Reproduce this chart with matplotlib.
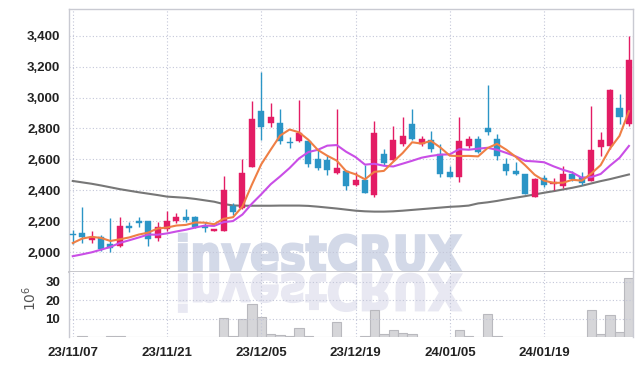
import numpy as np
import pandas as pd
import matplotlib
matplotlib.use("Agg")
import matplotlib.pyplot as plt
from matplotlib.textpath import TextPath
from matplotlib.patches import PathPatch
from matplotlib.font_manager import FontProperties
from matplotlib.transforms import Affine2D

# ── data (daily candles, 23/11/07 .. 24/02/01) ─────────────────────────────
holidays = ["2023-12-25", "2023-12-29", "2024-01-01"]
dates = pd.bdate_range("2023-11-07", "2024-02-01", freq="C", holidays=holidays)

opens  = [2120, 2126, 2078, 2096, 2052, 2041, 2172, 2200, 2200, 2093,
          2148, 2200, 2228, 2230, 2172, 2140, 2140, 2301, 2284, 2553,
          2912, 2837, 2837, 2710, 2718, 2718, 2602, 2596, 2514, 2527,
          2435, 2467, 2370, 2634, 2596, 2703, 2828, 2699, 2725, 2632,
          2518, 2488, 2688, 2735, 2800, 2735, 2570, 2527, 2505, 2359,
          2477, 2441, 2428, 2509, 2488, 2462, 2681, 2685, 2934, 2827]
highs  = [2145, 2290, 2135, 2110, 2220, 2226, 2198, 2226, 2202, 2198,
          2270, 2257, 2278, 2232, 2194, 2152, 2492, 2316, 2606, 2978,
          3166, 2966, 2923, 2746, 2987, 2720, 2665, 2628, 2923, 2530,
          2521, 2564, 2847, 2665, 2815, 2875, 2923, 2750, 2783, 2703,
          2557, 2875, 2750, 2750, 3080, 2763, 2611, 2585, 2507, 2477,
          2499, 2477, 2559, 2527, 2516, 2945, 2778, 3057, 3024, 3400]
lows   = [2055, 2060, 2058, 2007, 2002, 2035, 2133, 2165, 2043, 2074,
          2137, 2187, 2195, 2160, 2134, 2138, 2138, 2240, 2280, 2550,
          2725, 2811, 2703, 2671, 2714, 2553, 2531, 2499, 2505, 2402,
          2428, 2383, 2355, 2563, 2591, 2686, 2725, 2686, 2650, 2484,
          2486, 2456, 2671, 2643, 2757, 2596, 2499, 2499, 2374, 2357,
          2424, 2402, 2413, 2460, 2434, 2458, 2621, 2670, 2831, 2814]
closes = [2115, 2100, 2100, 2024, 2028, 2170, 2160, 2192, 2087, 2161,
          2200, 2226, 2212, 2165, 2155, 2150, 2402, 2262, 2510, 2860,
          2811, 2873, 2718, 2705, 2770, 2568, 2546, 2531, 2548, 2428,
          2467, 2385, 2772, 2578, 2724, 2750, 2731, 2729, 2665, 2509,
          2488, 2718, 2735, 2649, 2778, 2624, 2527, 2505, 2376, 2473,
          2434, 2456, 2509, 2471, 2445, 2664, 2728, 3050, 2874, 3243]
volume = [0.2, 0.5, 0.2, 0.2, 0.8, 0.8, 0.4, 0.2, 0.4, 0.2,
          0.4, 0.1, 0.1, 0.1, 0.1, 0.1, 10.3, 0.9, 10.0, 18.2,
          10.7, 1.8, 1.3, 0.7, 5.2, 0.7, 0.4, 0.4, 8.3, 0.3,
          0.3, 0.9, 14.5, 1.8, 4.0, 2.4, 1.9, 0.2, 0.2, 0.2,
          0.2, 4.0, 0.9, 0.4, 12.7, 0.9, 0.4, 0.1, 0.3, 0.3,
          0.1, 0.1, 0.3, 0.1, 0.1, 14.9, 1.8, 12.2, 2.7, 31.8]  # x 10^6

# moving-average values before enough history exists
ma5_head  = [2060, 2089, 2100, 2093]
ma10_head = [1975, 1987, 2000, 2017, 2035, 2061, 2078, 2096, 2115]
# long moving average (grey line)
ma_long = [2461, 2452, 2443, 2432, 2420, 2408, 2398, 2388, 2379, 2370,
           2360, 2356, 2352, 2345, 2336, 2327, 2312, 2303, 2301, 2301,
           2301, 2301, 2302, 2302, 2302, 2300, 2295, 2289, 2283, 2276,
           2269, 2265, 2263, 2263, 2265, 2269, 2274, 2279, 2284, 2289,
           2294, 2297, 2302, 2316, 2323, 2332, 2343, 2353, 2363, 2374,
           2385, 2395, 2406, 2417, 2430, 2445, 2460, 2473, 2488, 2503]

tick_dates = ["23/11/07", "23/11/21", "23/12/05", "23/12/19", "24/01/05", "24/01/19"]
price_ticks = [2000, 2200, 2400, 2600, 2800, 3000, 3200, 3400]
vol_ticks = [10, 20, 30]

# ── derived ────────────────────────────────────────────────────────────────
df = pd.DataFrame({"open": opens, "high": highs, "low": lows,
                   "close": closes, "vol": volume}, index=dates)
ma5 = df["close"].rolling(5).mean().to_numpy()
ma5[:len(ma5_head)] = ma5_head
ma10 = df["close"].rolling(10).mean().to_numpy()
ma10[:len(ma10_head)] = ma10_head

x = np.arange(len(df))
labels = df.index.strftime("%y/%m/%d")
tick_pos = [i for i, d in enumerate(labels) if d in tick_dates]

RED, BLUE = "#e31c64", "#2b95c6"
GRID = "#c3c6d8"
FRAME = "#c9cad2"
TXT = "#222222"
tick_font = dict(family=["Liberation Sans", "DejaVu Sans"],
                 weight="bold", size=9.5, color=TXT)

# ── figure ─────────────────────────────────────────────────────────────────
W, H = 642, 366
fig = plt.figure(figsize=(W / 100, H / 100), dpi=100)
ax = fig.add_axes([68.7 / W, 1 - 272.3 / H, 564 / W, 263 / H])
axv = fig.add_axes([68.7 / W, 1 - 337.3 / H, 564 / W, 65 / H], sharex=ax)

for a in (ax, axv):
    a.grid(True, color=GRID, lw=0.8, linestyle=(0, (1, 2)))
    a.set_axisbelow("line")
    for s in a.spines.values():
        s.set_color(FRAME)
        s.set_linewidth(1)
    a.tick_params(length=0)
ax.spines["bottom"].set_color("#c4c4c8")
ax.spines["bottom"].set_linewidth(1.3)
axv.spines["top"].set_visible(False)
axv.spines["bottom"].set_visible(False)

# watermark + reflection
tp = TextPath((0, 0), "investCRUX", size=100,
              prop=FontProperties(family="DejaVu Sans", weight="bold"))
ext = tp.get_extents()
wx0, wx1, base, wh = 179, 461, H - 272.3, 38
sx, sy = (wx1 - wx0) / ext.width, wh / ext.height
t_main = Affine2D().translate(-ext.x0, -ext.y0).scale(sx, sy).translate(wx0, base + 0.5)
t_refl = Affine2D().translate(-ext.x0, -ext.y0).scale(sx, -sy).translate(wx0, base - 1.5)
ax.add_patch(PathPatch(tp, transform=t_main, facecolor="#d3d9e8",
                       edgecolor="#d3d9e8", lw=1.6, zorder=1))
axv.add_patch(PathPatch(tp, transform=t_refl, facecolor="#e8e8f2",
                        edgecolor="#e8e8f2", lw=1.6, zorder=0.8))

# candles
up = df["close"] >= df["open"]
colors = np.where(up, RED, BLUE)
body_lo = np.minimum(df["open"], df["close"])
body_h = np.maximum((df["close"] - df["open"]).abs(), 6)
ax.vlines(x, df["low"], df["high"], colors=colors, lw=1.0, zorder=3)
ax.bar(x, body_h, bottom=body_lo, width=0.64, color=colors,
       edgecolor=colors, lw=0.3, zorder=4)

# moving averages
ax.plot(x, ma_long, color="#777777", lw=1.5, zorder=2.5)
ax.plot(x, ma10, color="#c94ee6", lw=1.5, zorder=5)
ax.plot(x, ma5, color="#ef7f45", lw=1.5, zorder=5)

ax.set_ylim(1871, 3570)
ax.set_yticks(price_ticks)
ax.set_yticklabels([f"{v:,}" for v in price_ticks], **tick_font)
ax.tick_params(axis="y", pad=6)
ax.tick_params(axis="x", labelbottom=False)

# volume
axv.bar(x, df["vol"], width=1.0, color="#d6d6d9", edgecolor="#b9b9be",
        lw=0.8, zorder=1)
axv.set_ylim(0, 35.1)
axv.set_yticks(vol_ticks)
axv.set_yticklabels([str(v) for v in vol_ticks], **tick_font)
axv.tick_params(axis="y", pad=6)
axv.set_xlim(-0.43, 59.4)
axv.set_xticks(tick_pos)
axv.set_xticklabels([labels[i] for i in tick_pos], **tick_font)
axv.tick_params(axis="x", pad=7)
fig.text(30 / W, 1 - 298 / H, "$10^6$", rotation=90, ha="center",
         va="center", fontsize=10, color="#555555")

fig.savefig("out.png", dpi=100)
